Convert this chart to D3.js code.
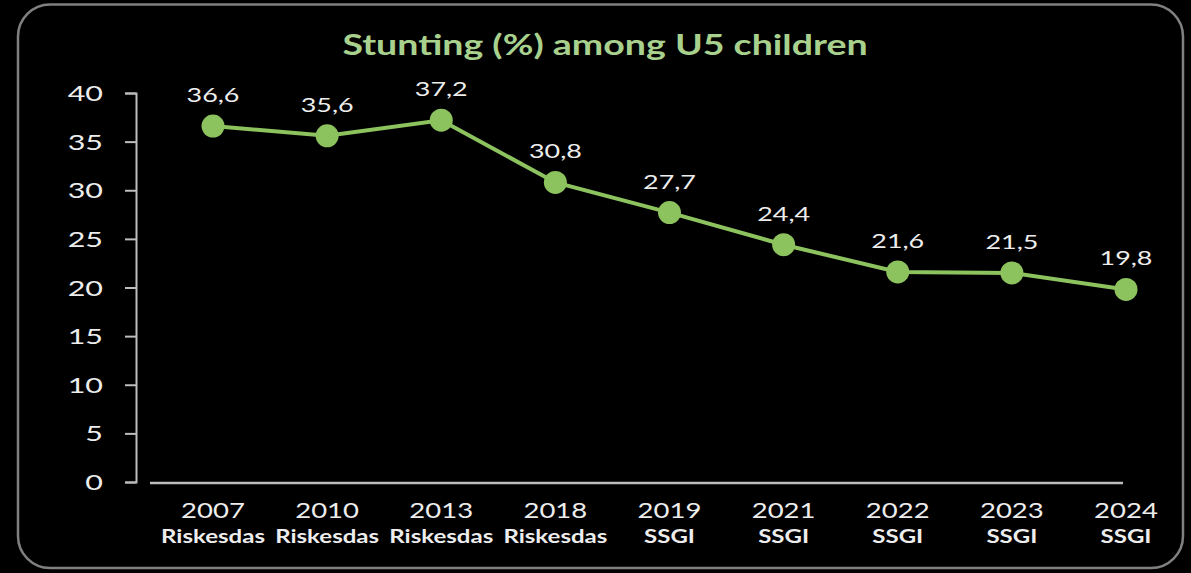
<!DOCTYPE html>
<html lang="en">
<head>
<meta charset="UTF-8">
<title>Stunting (%) among U5 children</title>
<style>
  html, body { margin: 0; padding: 0; background: #000; }
  svg { display: block; }
  text { font-family: Lato, "Open Sans", sans-serif; fill: #ededed; }
  .title { fill: #a9d18e; font-weight: bold; font-size: 28px; }
  .axis text { font-size: 21px; }
  .axis path, .axis line { stroke: #bdbdbd; stroke-width: 2; }
  .year { font-size: 22px; }
  .source { font-size: 18.5px; font-weight: bold; }
  .value { font-size: 19.5px; }
</style>
</head>
<body>
<div id="chart"></div>
<script src="https://cdn.jsdelivr.net/npm/d3@7"></script>
<script>
// survey years, survey names and stunting prevalence (%)
const years = ["2007", "2010", "2013", "2018", "2019", "2021", "2022", "2023", "2024"];
const sources = ["Riskesdas", "Riskesdas", "Riskesdas", "Riskesdas", "SSGI", "SSGI", "SSGI", "SSGI", "SSGI"];
const stunting = [36.6, 35.6, 37.2, 30.8, 27.7, 24.4, 21.6, 21.5, 19.8];
const yTicks = [0, 5, 10, 15, 20, 25, 30, 35, 40];

const width = 1191;
const height = 573;
const green = "#8dc35e";

const comma = d3.formatLocale({ decimal: ",", thousands: ".", grouping: [3], currency: ["", ""] }).format(".1f");

const svg = d3.select("#chart").append("svg")
  .attr("width", width)
  .attr("height", height);

svg.append("rect")
  .attr("width", width).attr("height", height)
  .attr("fill", "#000");

// rounded frame
svg.append("rect")
  .attr("x", 18).attr("y", 4.5)
  .attr("width", 1165).attr("height", 563.5)
  .attr("rx", 32)
  .attr("fill", "none")
  .attr("stroke", "#808080")
  .attr("stroke-width", 2.5);

const x = d3.scalePoint().domain(years).range([213, 1126]);
const y = d3.scaleLinear().domain([0, 40]).range([482, 93]);

// place text and draw it horizontally widened by factor s
function widen(sel, tx, ty, s) {
  const f = v => (typeof v === "function" ? v : () => v);
  sel.attr("transform", (d, i) => `translate(${f(tx)(d, i)},${f(ty)(d, i)}) scale(${s},1)`);
}

// title
svg.append("text")
  .attr("class", "title")
  .attr("text-anchor", "middle")
  .text("Stunting (%) among U5 children")
  .call(widen, 605, 55, 1.34);

// y axis
const yAxis = svg.append("g")
  .attr("class", "axis")
  .attr("transform", "translate(136,0)")
  .call(d3.axisLeft(y).tickValues(yTicks).tickSize(11).tickSizeOuter(11));
yAxis.selectAll(".tick text")
  .attr("x", 0).attr("dy", "0.36em")
  .attr("transform", "translate(-33,0) scale(1.45,1)");

// x axis baseline
svg.append("line")
  .attr("x1", 150).attr("x2", 1123)
  .attr("y1", y(0) + 1).attr("y2", y(0) + 1)
  .attr("stroke", "#bdbdbd")
  .attr("stroke-width", 2.5);

// category labels
svg.selectAll(".year").data(years).join("text")
  .attr("class", "year")
  .attr("text-anchor", "middle")
  .text(d => d)
  .call(widen, d => x(d), 518, 1.25);

svg.selectAll(".source").data(sources).join("text")
  .attr("class", "source")
  .attr("text-anchor", "middle")
  .text(d => d)
  .call(widen, (d, i) => x(years[i]), 543, 1.3);

// line and markers
const line = d3.line()
  .x((d, i) => x(years[i]))
  .y(d => y(d));

svg.append("path")
  .datum(stunting)
  .attr("d", line)
  .attr("fill", "none")
  .attr("stroke", green)
  .attr("stroke-width", 4);

svg.selectAll(".dot").data(stunting).join("circle")
  .attr("class", "dot")
  .attr("cx", (d, i) => x(years[i]))
  .attr("cy", d => y(d))
  .attr("r", 11.5)
  .attr("fill", green);

svg.selectAll(".value").data(stunting).join("text")
  .attr("class", "value")
  .attr("text-anchor", "middle")
  .text(d => comma(d))
  .call(widen, (d, i) => x(years[i]), d => y(d) - 24, 1.38);
</script>
</body>
</html>
